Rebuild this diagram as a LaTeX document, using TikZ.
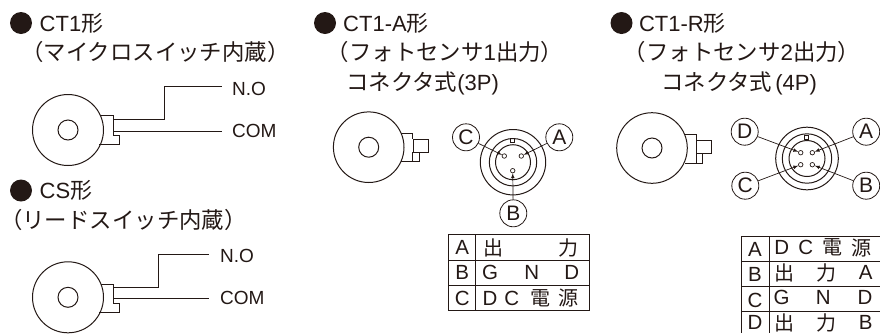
\documentclass[tikz,border=0pt]{standalone}
\usepackage{fontspec}
\setmainfont{Liberation Sans}
\newfontfamily\jpfont{Noto Sans CJK JP}
\usepackage{xcolor}
\usetikzlibrary{positioning}
\definecolor{inkc}{HTML}{231815}
\tikzset{>=latex}
\tikzset{
  body/.style={line width=1pt, inkc},
  pinlead/.style={line width=0.7pt, inkc, ->},
  bullet/.style={circle, fill=inkc, inner sep=0pt, minimum size=22pt},
  headtext/.style={anchor=west, inner sep=0pt, text=inkc, font=\fontsize{22}{24}\selectfont},
  subtext/.style={anchor=west, inner sep=0pt, text=inkc, font=\fontsize{22.4}{24}\selectfont\jpfont},
  wiretext/.style={anchor=west, inner sep=0pt, text=inkc, font=\fontsize{19}{22}\selectfont},
  tag/.style={circle, draw=inkc, line width=0.8pt, inner sep=0pt, minimum size=27pt, text=inkc, font=\fontsize{21}{22}\selectfont},
  pin/.style={circle, draw=inkc, line width=0.7pt, inner sep=0pt, minimum size=4.5pt},
  cell/.style={inner sep=0pt, text=inkc, font=\fontsize{20.5}{22}\selectfont},
  jcell/.style={inner sep=0pt, text=inkc, font=\fontsize{20}{22}\selectfont\jpfont}
}
\begin{document}
\begin{tikzpicture}[x=1pt, y=-1pt]
  \useasboundingbox (0,0) rectangle (880,333);

  % CT1
  \node[bullet] (bulletA) at (21,23) {};
  \node[headtext] (headA) at (39.5,23) {CT1{\jpfont 形}};
  \node[subtext] (subA) at (21,52) {（マイクロスイッチ内蔵）};
  \draw[body] (68,130) circle (35.5);
  \draw[body] (68,130) circle (10);
  \draw[body] (101,115.7) -- (113.3,115.7) -- (113.3,135) -- (119,135) -- (119,144.3) -- (99,144.3);
  \coordinate (noA) at (113.3,119.5);
  \coordinate (noAend) at (222,86.5);
  \coordinate (comA) at (113.3,131);
  \coordinate (comAend) at (222,131);
  \draw[body] (noA) -- (164.5,119.5) -- (164.5,86.5) -- (noAend);
  \draw[body] (comA) -- (comAend);
  \node[wiretext] (labNoA) at (232,88.5) {N.O};
  \node[wiretext] (labComA) at (232,130.5) {COM};

  % CS
  \node[bullet] (bulletB) at (21,190.5) {};
  \node[headtext] (headB) at (39.5,190.5) {CS{\jpfont 形}};
  \node[subtext] (subB) at (0,220) {（リードスイッチ内蔵）};
  \draw[body] (68,297.3) circle (35.5);
  \draw[body] (68,297.3) circle (10);
  \draw[body] (101,284) -- (113.3,284) -- (113.3,303.3) -- (119,303.3) -- (119,312.7) -- (99,312.7);
  \coordinate (noB) at (113.3,287.3);
  \coordinate (noBend) at (209.3,254.3);
  \coordinate (comB) at (113.3,298.7);
  \coordinate (comBend) at (209.3,298.7);
  \draw[body] (noB) -- (158,287.3) -- (158,254.3) -- (noBend);
  \draw[body] (comB) -- (comBend);
  \node[wiretext] (labNoB) at (220,255.5) {N.O};
  \node[wiretext] (labComB) at (220,298) {COM};

  % CT1-A
  \node[bullet] (bulletC) at (325,23) {};
  \node[headtext] (headC) at (343,23) {CT1-A{\jpfont 形}};
  \node[subtext] (subC) at (326.6,52) {（フォトセンサ{\rmfamily 1}出力）};
  \node[subtext] (connC) at (346,83) {コネクタ式{\rmfamily\fontsize{22}{24}\selectfont (3P)}};
  \draw[body] (368.7,147.2) circle (35.3);
  \draw[body] (368.7,147.2) circle (10);
  \draw[body] (401,133.3) -- (412.7,133.3) -- (412.7,139.3);
  \draw[body] (412.7,152.3) -- (412.7,161.7) -- (419.3,161.7) -- (419.3,152.3);
  \draw[body] (412.7,161.7) -- (401,161.7);
  \draw[body] (413.3,139.3) rectangle (428,152.3);
  \draw[body] (513,162.2) circle (32.7);
  \draw[body] (513,162.2) circle (23.7);
  \draw[body] (513,162.2) circle (17.5);
  \draw[body, line width=0.7pt] (510.7,138) rectangle (514.7,142);
  \node[pin] (pinCa) at (521.3,156) {};
  \node[pin] (pinCb) at (512.7,170.7) {};
  \node[pin] (pinCc) at (504.3,156) {};
  \node[tag] (tagCa) at (559.3,137.3) {A};
  \node[tag] (tagCb) at (513.3,213.3) {B};
  \node[tag] (tagCc) at (466,137.3) {C};
  \draw[pinlead] (tagCa) -- (pinCa);
  \draw[pinlead] (tagCb) -- (pinCb);
  \draw[pinlead] (tagCc) -- (pinCc);
  \draw[body] (448,234.3) rectangle (589.3,310);
  \draw[body] (448,260) -- (589.3,260);
  \draw[body] (448,285) -- (589.3,285);
  \draw[body] (475,234.3) -- (475,310);
  \node[cell] (rowCa) at (462.3,247.5) {A};
  \node[cell] (rowCb) at (462.3,272.5) {B};
  \node[cell] (rowCc) at (462.3,298) {C};
  \node[jcell] (c11) at (493,247.5) {出};
  \node[jcell] (c12) at (568,247.5) {力};
  \node[cell] (c21) at (490,272.5) {G};
  \node[cell] (c22) at (531.7,272.5) {N};
  \node[cell] (c23) at (571.7,272.5) {D};
  \node[cell] (c31) at (490,298) {D};
  \node[cell] (c32) at (511.7,298) {C};
  \node[jcell] (c33) at (540,298) {電};
  \node[jcell] (c34) at (568,298) {源};

  % CT1-R
  \node[bullet] (bulletD) at (621.5,23) {};
  \node[headtext] (headD) at (638.8,23) {CT1-R{\jpfont 形}};
  \node[subtext] (subD) at (623.6,52) {（フォトセンサ{\rmfamily 2}出力）};
  \node[subtext] (connD) at (661,83) {コネクタ式\kern3pt{\rmfamily\fontsize{22}{24}\selectfont (4P)}};
  \draw[body] (652,148) circle (35.3);
  \draw[body] (652,148) circle (10);
  \draw[body] (685,134.3) -- (696.7,134.3) -- (696.7,140.7);
  \draw[body] (696.7,153.3) -- (696.7,163.3) -- (702.7,163.3) -- (702.7,153.3);
  \draw[body] (696.7,163.3) -- (685,163.3);
  \draw[body] (696.7,140.7) rectangle (711.7,153.3);
  \draw[body] (807,158.5) circle (31.3);
  \draw[body] (807,158.5) circle (24.7);
  \draw[body] (807,158.5) circle (18);
  \draw[body, line width=0.7pt] (804.7,135.7) rectangle (808.7,139.7);
  \node[pin] (pinDa) at (812.3,152.7) {};
  \node[pin] (pinDb) at (812.3,164.7) {};
  \node[pin] (pinDc) at (800.7,164.7) {};
  \node[pin] (pinDd) at (800.7,152.7) {};
  \node[tag] (tagDa) at (866.2,131.7) {A};
  \node[tag] (tagDb) at (866.2,185.7) {B};
  \node[tag] (tagDc) at (745.3,185.7) {C};
  \node[tag] (tagDd) at (744.7,131.7) {D};
  \draw[pinlead] (tagDa) -- (pinDa);
  \draw[pinlead] (tagDb) -- (pinDb);
  \draw[pinlead] (tagDc) -- (pinDc);
  \draw[pinlead] (tagDd) -- (pinDd);
  \draw[body] (880,236) -- (741.7,236) -- (741.7,333);
  \draw[body] (741.7,261) -- (880,261);
  \draw[body] (741.7,286) -- (880,286);
  \draw[body] (741.7,311) -- (880,311);
  \draw[body] (769,236) -- (769,333);
  \node[cell] (rowDa) at (755,249.5) {A};
  \node[cell] (rowDb) at (755,274.5) {B};
  \node[cell] (rowDc) at (755,300) {C};
  \node[cell] (rowDd) at (755,322.5) {D};
  \node[cell] (d11) at (781.7,247.7) {D};
  \node[cell] (d12) at (805.7,247.7) {C};
  \node[jcell] (d13) at (832,247.7) {電};
  \node[jcell] (d14) at (861.7,247.7) {源};
  \node[jcell] (d21) at (784,272.7) {出};
  \node[jcell] (d22) at (826.7,272.7) {力};
  \node[cell] (d23) at (865.7,272.7) {A};
  \node[cell] (d31) at (781.7,297.7) {G};
  \node[cell] (d32) at (823.3,297.7) {N};
  \node[cell] (d33) at (865,297.7) {D};
  \node[jcell] (d41) at (784,322.5) {出};
  \node[jcell] (d42) at (826.7,322.5) {力};
  \node[cell] (d43) at (865.7,322.5) {B};
\end{tikzpicture}
\end{document}
